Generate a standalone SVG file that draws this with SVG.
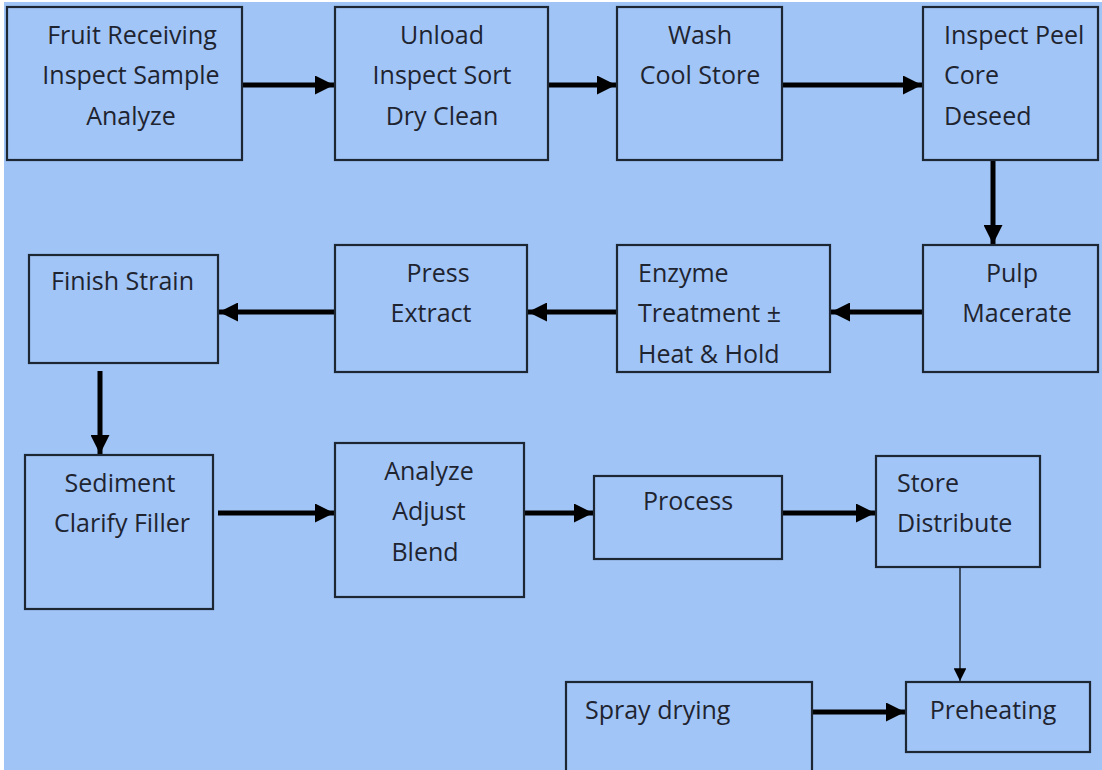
<svg xmlns="http://www.w3.org/2000/svg" width="1102" height="770" viewBox="0 0 1102 770">
<defs>
<style>
.bg{fill:#a0c4f6}
.box{fill:#a2c5f7;stroke:#1c2733;stroke-width:2.2}
.t{font-family:"Open Sans","Liberation Sans",sans-serif;font-size:25px;fill:#1e2430}
.c{text-anchor:middle}
.a{stroke:#000;stroke-width:5;fill:none}
.thin{stroke:#2a3340;stroke-width:1.6;fill:none}
</style>
<marker id="ah" markerWidth="3.8" markerHeight="3.8" refX="10" refY="5" orient="auto" markerUnits="strokeWidth" viewBox="0 0 10 10" preserveAspectRatio="none">
<path d="M0,0 L10,5 L0,10 z" fill="#000"/>
</marker>
<marker id="ahs" markerWidth="8" markerHeight="8" refX="10" refY="5" orient="auto" markerUnits="strokeWidth" viewBox="0 0 10 10">
<path d="M0,0 L10,5 L0,10 z" fill="#000"/>
</marker>
</defs>
<rect x="0" y="0" width="1102" height="770" fill="#ffffff"/>
<rect class="bg" x="4" y="2" width="1098" height="768"/>
<g id="connectors">
<line class="a" x1="243" y1="85" x2="334" y2="85" marker-end="url(#ah)"/>
<line class="a" x1="549" y1="85" x2="616" y2="85" marker-end="url(#ah)"/>
<line class="a" x1="783" y1="85" x2="922" y2="85" marker-end="url(#ah)"/>
<line class="a" x1="993" y1="161" x2="993" y2="244" marker-end="url(#ah)"/>
<line class="a" x1="922" y1="312" x2="831" y2="312" marker-end="url(#ah)"/>
<line class="a" x1="616" y1="312" x2="528" y2="312" marker-end="url(#ah)"/>
<line class="a" x1="334" y1="312" x2="219" y2="312" marker-end="url(#ah)"/>
<line class="a" x1="100" y1="371" x2="100" y2="454" marker-end="url(#ah)"/>
<line class="a" x1="218" y1="513" x2="334" y2="513" marker-end="url(#ah)"/>
<line class="a" x1="525" y1="513" x2="593" y2="513" marker-end="url(#ah)"/>
<line class="a" x1="783" y1="513" x2="875" y2="513" marker-end="url(#ah)"/>
<line class="thin" x1="960" y1="568" x2="960" y2="681" marker-end="url(#ahs)"/>
<line class="a" x1="813" y1="712" x2="905" y2="712" marker-end="url(#ah)"/>
</g>
<g id="n1"><rect class="box" x="7" y="7" width="235" height="153"/>
<text class="t c" x="132" y="44">Fruit Receiving</text><text class="t c" x="131" y="84">Inspect Sample</text><text class="t c" x="131" y="125">Analyze</text></g>
<g id="n2"><rect class="box" x="335" y="7" width="213" height="153"/>
<text class="t c" x="442" y="44">Unload</text><text class="t c" x="442" y="84">Inspect Sort</text><text class="t c" x="442" y="125">Dry Clean</text></g>
<g id="n3"><rect class="box" x="617" y="7" width="165" height="153"/>
<text class="t c" x="700" y="44">Wash</text><text class="t c" x="700" y="84">Cool Store</text></g>
<g id="n4"><rect class="box" x="923" y="7" width="175" height="153"/>
<text class="t" x="944" y="44">Inspect Peel</text><text class="t" x="944" y="84">Core</text><text class="t" x="944" y="125">Deseed</text></g>
<g id="n5"><rect class="box" x="923" y="245" width="175" height="127"/>
<text class="t c" x="1012" y="282">Pulp</text><text class="t c" x="1017" y="322">Macerate</text></g>
<g id="n6"><rect class="box" x="617" y="245" width="213" height="127"/>
<text class="t" x="638" y="282">Enzyme</text><text class="t" x="638" y="322">Treatment ±</text><text class="t" x="638" y="363">Heat &amp; Hold</text></g>
<g id="n7"><rect class="box" x="335" y="245" width="192" height="127"/>
<text class="t c" x="438" y="282">Press</text><text class="t c" x="431" y="322">Extract</text></g>
<g id="n8"><rect class="box" x="29" y="255" width="189" height="108"/>
<text class="t" x="51" y="290">Finish Strain</text></g>
<g id="n9"><rect class="box" x="25" y="455" width="188" height="154"/>
<text class="t c" x="120" y="492">Sediment</text><text class="t c" x="122" y="532">Clarify Filler</text></g>
<g id="n10"><rect class="box" x="335" y="443" width="189" height="154"/>
<text class="t c" x="429" y="480">Analyze</text><text class="t c" x="429" y="520">Adjust</text><text class="t c" x="425" y="561">Blend</text></g>
<g id="n11"><rect class="box" x="594" y="476" width="188" height="83"/>
<text class="t c" x="688" y="510">Process</text></g>
<g id="n12"><rect class="box" x="876" y="456" width="164" height="111"/>
<text class="t" x="897" y="492">Store</text><text class="t" x="897" y="532">Distribute</text></g>
<g id="n13"><rect class="box" x="906" y="682" width="184" height="70"/>
<text class="t c" x="993" y="719">Preheating</text></g>
<g id="n14"><rect class="box" x="566" y="682" width="246" height="90"/>
<text class="t" x="585" y="719">Spray drying</text></g>
</svg>
